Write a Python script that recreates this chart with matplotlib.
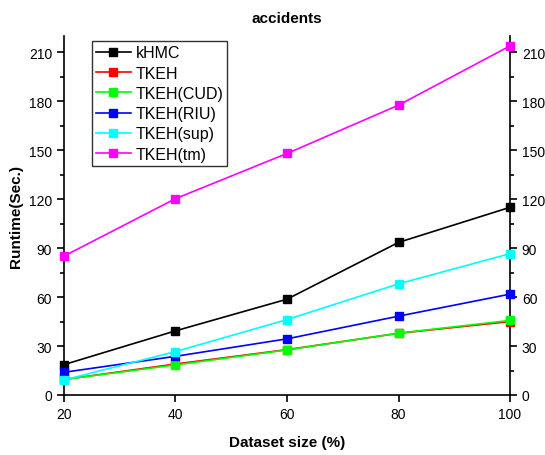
import matplotlib.pyplot as plt
from matplotlib.ticker import MultipleLocator

plt.rcParams['font.family'] = ['Liberation Sans', 'DejaVu Sans']

sizes = [20, 40, 60, 80, 100]
khmc = [18.6, 39.3, 58.7, 93.5, 115.0]
tkeh = [9.5, 19.0, 27.8, 37.8, 45.0]
tkeh_cud = [9.5, 18.4, 27.6, 37.9, 45.7]
tkeh_riu = [13.9, 23.7, 34.4, 48.3, 61.8]
tkeh_sup = [9.2, 26.6, 46.2, 68.1, 86.6]
tkeh_tm = [85.1, 120.3, 148.0, 177.6, 213.9]

series = [
    ('kHMC', khmc, '#000000'),
    ('TKEH', tkeh, '#ff0000'),
    ('TKEH(CUD)', tkeh_cud, '#00ff00'),
    ('TKEH(RIU)', tkeh_riu, '#0000ff'),
    ('TKEH(sup)', tkeh_sup, '#00ffff'),
    ('TKEH(tm)', tkeh_tm, '#ff00ff'),
]

fig = plt.figure(figsize=(5.45, 4.56), dpi=100)
ax = fig.add_axes([0.1174, 0.1316, 0.8184, 0.7873])

for name, vals, col in series:
    ax.plot(sizes, vals, color=col, marker='s', markersize=6, linewidth=1.2,
            label=name, clip_on=False, zorder=3)

ax.set_xlim(20, 100)
ax.set_ylim(0, 220)
ax.xaxis.set_major_locator(MultipleLocator(20))
ax.yaxis.set_major_locator(MultipleLocator(30))
ax.yaxis.set_minor_locator(MultipleLocator(15))

ax.spines['top'].set_visible(False)
for s in ['left', 'right', 'bottom']:
    ax.spines[s].set_linewidth(1.2)
ax.tick_params(axis='y', which='both', direction='out', left=True, right=True,
               labelleft=True, labelright=True, labelsize=10, width=1.2)
ax.tick_params(axis='y', which='major', length=5)
ax.tick_params(axis='y', which='minor', length=3)
ax.tick_params(axis='x', direction='out', length=5, width=1.2, labelsize=10)

ax.set_xlabel('Dataset size (%)', fontsize=11, fontweight='bold', labelpad=10)
ax.set_ylabel('Runtime(Sec.)', fontsize=11, fontweight='bold', labelpad=4)
ax.set_title('accidents', fontsize=11, fontweight='bold', pad=10)

leg = ax.legend(loc='upper left', bbox_to_anchor=(0.062, 0.985), fontsize=11.5,
                frameon=True, fancybox=False, handlelength=2.2,
                borderpad=0.25, labelspacing=0.33, handletextpad=0.3,
                borderaxespad=0)
leg.get_frame().set_edgecolor('black')
leg.get_frame().set_linewidth(1.0)
leg.set_zorder(5)

fig.savefig('out.png', dpi=100)
